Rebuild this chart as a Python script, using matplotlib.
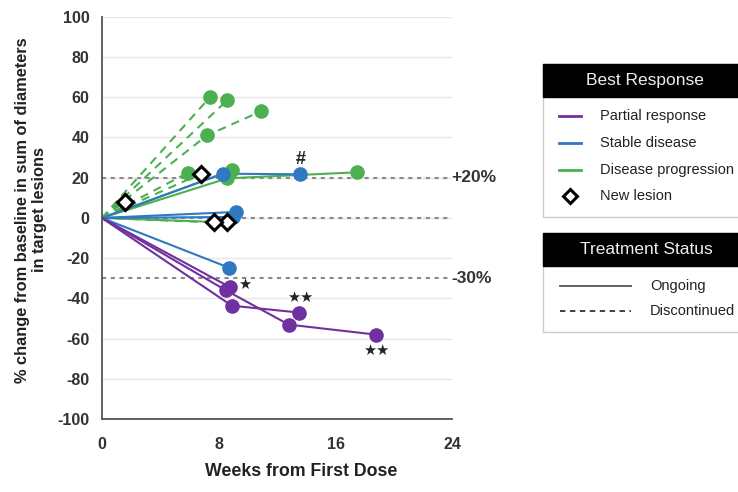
import matplotlib
matplotlib.use("Agg")
import matplotlib.pyplot as plt
from matplotlib.patches import Rectangle
from matplotlib.lines import Line2D

plt.rcParams['font.family'] = ['Liberation Sans', 'DejaVu Sans']

# ---------------- data ----------------
# each patient: weeks, % change, best response, status, new-lesion at last point
pr_weeks = [[0, 8.5, 12.8, 18.8], [0, 8.9, 13.5], [0, 8.8]]
pr_values = [[0, -36, -53, -58], [0, -43.6, -47], [0, -34.5]]
pr_status = ['ongoing', 'ongoing', 'ongoing']
pr_newlesion = [False, False, False]

sd_weeks = [[0, 8.3, 13.6], [0, 9.2], [0, 9.0], [0, 8.7]]
sd_values = [[0, 22, 21.7], [0, 3], [0, 0.5], [0, -24.7]]
sd_status = ['ongoing', 'ongoing', 'ongoing', 'ongoing']
sd_newlesion = [False, False, False, False]

pd_weeks = [[0, 8.9], [0, 8.6, 17.5], [0, 8.6],
            [0, 7.4], [0, 8.6], [0, 7.2, 10.9], [0, 5.9], [0, 6.8], [0, 1.6], [0, 7.7]]
pd_values = [[0, 23.7], [0, 19.7, 22.7], [0, -2.2],
             [0, 60], [0, 58.6], [0, 41, 53], [0, 22.5], [0, 22], [0, 8], [0, -2.2]]
pd_status = ['ongoing', 'ongoing', 'ongoing',
             'discontinued', 'discontinued', 'discontinued', 'discontinued',
             'discontinued', 'discontinued', 'discontinued']
pd_newlesion = [False, False, True, False, False, False, False, True, True, True]

ref_levels = [20, 0, -30]
ref_labels = ['+20%', '', '-30%']

annot_text = ['#', '\u2605', '\u2605\u2605', '\u2605\u2605']
annot_x = [13.6, 9.8, 13.6, 18.8]
annot_y = [29, -33, -39.5, -66]

x_ticks = [0, 8, 16, 24]
y_ticks = [100, 80, 60, 40, 20, 0, -20, -40, -60, -80, -100]

# ---------------- style ----------------
c_pr = '#7030a0'
c_sd = '#2f78c2'
c_pd = '#4cb050'

fig = plt.figure(figsize=(7.38, 4.92), dpi=100)
ax = fig.add_axes([0.138, 0.148, 0.475, 0.818])
ax.set_xlim(0, 24)
ax.set_ylim(-100, 100)

for y in y_ticks:
    if y == -100:
        continue
    ax.axhline(y, color='#e6e6e6', lw=1.0, zorder=0)

for lev in ref_levels:
    ax.axhline(lev, color='#8a8a8a', lw=1.5, ls=(0, (2, 2.2)), zorder=1)


def draw_group(weeks, values, status, newl, color):
    for w, v, s, nl in zip(weeks, values, status, newl):
        ls = '-' if s == 'ongoing' else (0, (4, 3))
        ax.plot(w, v, color=color, lw=1.5, ls=ls, zorder=2)
        for i in range(1, len(w)):
            if nl and i == len(w) - 1:
                continue
            ax.plot(w[i], v[i], 'o', color=color, ms=9.5, zorder=3)
        if nl:
            ax.plot(w[-1], v[-1], 'D', ms=8, mfc='white', mec='black', mew=2.2, zorder=4)


draw_group(pd_weeks, pd_values, pd_status, pd_newlesion, c_pd)
draw_group(sd_weeks, sd_values, sd_status, sd_newlesion, c_sd)
draw_group(pr_weeks, pr_values, pr_status, pr_newlesion, c_pr)

for t, x, y in zip(annot_text, annot_x, annot_y):
    if t == '#':
        ax.text(x, y, t, ha='center', va='center', fontsize=13, fontweight='bold',
                color='#222222')
    else:
        ax.text(x, y, t, ha='center', va='center', fontsize=10.5, color='#222222',
                family='DejaVu Sans')

for lev, lab in zip(ref_levels, ref_labels):
    if lab:
        ax.text(23.9, lev, lab, ha='left', va='center', fontsize=12.5,
                fontweight='bold', color='#333333', clip_on=False)

ax.set_xticks(x_ticks)
ax.set_yticks(y_ticks)
ax.set_xticklabels([str(v) for v in x_ticks])
ax.set_yticklabels([str(v) for v in y_ticks])
ax.tick_params(axis='both', length=0, labelsize=11.5, colors='#333333')
ax.tick_params(axis='x', pad=13)
ax.tick_params(axis='y', pad=9)
for lab in ax.get_xticklabels() + ax.get_yticklabels():
    lab.set_fontweight('bold')

for sp in ('top', 'right'):
    ax.spines[sp].set_visible(False)
for sp in ('left', 'bottom'):
    ax.spines[sp].set_color('#555555')
    ax.spines[sp].set_linewidth(1.3)

fig.text(31 / 738, 1 - 210 / 492,
         '% change from baseline in sum of diameters\nin target lesions',
         rotation=90, ha='center', va='center', fontsize=11.8, fontweight='bold',
         color='#222222', linespacing=1.1)
fig.text(301 / 738, 1 - 471 / 492, 'Weeks from First Dose', ha='center', va='center',
         fontsize=12.8, fontweight='bold', color='#222222')

# ---------------- legends (drawn in pixel space) ----------------
lax = fig.add_axes([0, 0, 1, 1], zorder=5)
lax.set_xlim(0, 738)
lax.set_ylim(492, 0)
lax.axis('off')
lax.patch.set_alpha(0)

# Best Response box
lax.add_patch(Rectangle((543, 64), 210, 153, fc='white', ec='#cccccc', lw=1))
lax.add_patch(Rectangle((543, 64), 210, 33, fc='black', ec='black', lw=1))
lax.text(645, 81, 'Best Response', color='#eeeeee', fontsize=12.5, ha='center', va='center')
br_items = [('Partial response', c_pr), ('Stable disease', c_sd), ('Disease progression', c_pd)]
for i, (lab, col) in enumerate(br_items):
    y = 116 + i * 27
    lax.add_line(Line2D([559, 581], [y, y], color=col, lw=2))
    lax.text(600, y, lab, fontsize=10.5, va='center', ha='left', color='#222222')
lax.plot(570, 196, 'D', ms=7, mfc='white', mec='black', mew=2.2)
lax.text(600, 196, 'New lesion', fontsize=10.5, va='center', ha='left', color='#222222')

# Treatment Status box
lax.add_patch(Rectangle((543, 233), 210, 99, fc='white', ec='#cccccc', lw=1))
lax.add_patch(Rectangle((543, 233), 210, 33, fc='black', ec='black', lw=1))
lax.text(646, 250, 'Treatment Status', color='#eeeeee', fontsize=12.5, ha='center', va='center')
lax.add_line(Line2D([560, 631], [286, 286], color='#555555', lw=1.3))
lax.text(650, 286, 'Ongoing', fontsize=10.5, va='center', ha='left', color='#222222')
lax.add_line(Line2D([560, 631], [311, 311], color='#333333', lw=1.3, ls=(0, (3, 2.5))))
lax.text(650, 311, 'Discontinued', fontsize=10.5, va='center', ha='left', color='#222222')

fig.savefig('out.png', dpi=100)
